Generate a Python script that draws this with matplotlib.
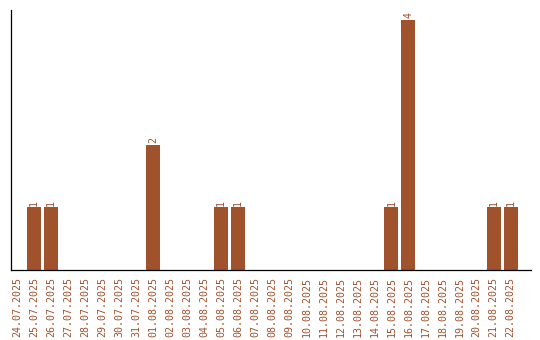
import numpy as np
import matplotlib
matplotlib.use("Agg")
import matplotlib.pyplot as plt

dates = ["24.07.2025", "25.07.2025", "26.07.2025", "27.07.2025", "28.07.2025",
         "29.07.2025", "30.07.2025", "31.07.2025", "01.08.2025", "02.08.2025",
         "03.08.2025", "04.08.2025", "05.08.2025", "06.08.2025", "07.08.2025",
         "08.08.2025", "09.08.2025", "10.08.2025", "11.08.2025", "12.08.2025",
         "13.08.2025", "14.08.2025", "15.08.2025", "16.08.2025", "17.08.2025",
         "18.08.2025", "19.08.2025", "20.08.2025", "21.08.2025", "22.08.2025"]
counts = [0, 1, 1, 0, 0, 0, 0, 0, 2, 0,
          0, 0, 1, 1, 0, 0, 0, 0, 0, 0,
          0, 0, 1, 4, 0, 0, 0, 0, 1, 1]

color = "#A0522D"
plt.rcParams['font.family'] = ['DejaVu Sans Mono']

fig = plt.figure(figsize=(5.4, 3.4), dpi=100)
ax = fig.add_axes([0.0204, 0.206, 0.963, 0.765])

x = np.arange(len(dates))
ax.bar(x, counts, width=0.82, color=color)
for xi, c in zip(x, counts):
    if c > 0:
        ax.text(xi, c + 0.03, str(c), rotation=90, ha='center', va='bottom',
                color=color, fontsize=7.2)

ax.set_xticks(x)
ax.set_xticklabels(dates, rotation=90, color=color, fontsize=7.2)
ax.tick_params(axis='x', length=0, pad=5)
ax.set_yticks([])
ax.set_xlim(-0.35, 30.2)
ax.set_ylim(0, 4.16)
for s in ['top', 'right']:
    ax.spines[s].set_visible(False)
for s in ['left', 'bottom']:
    ax.spines[s].set_linewidth(0.9)

fig.savefig("out.png", dpi=100)
